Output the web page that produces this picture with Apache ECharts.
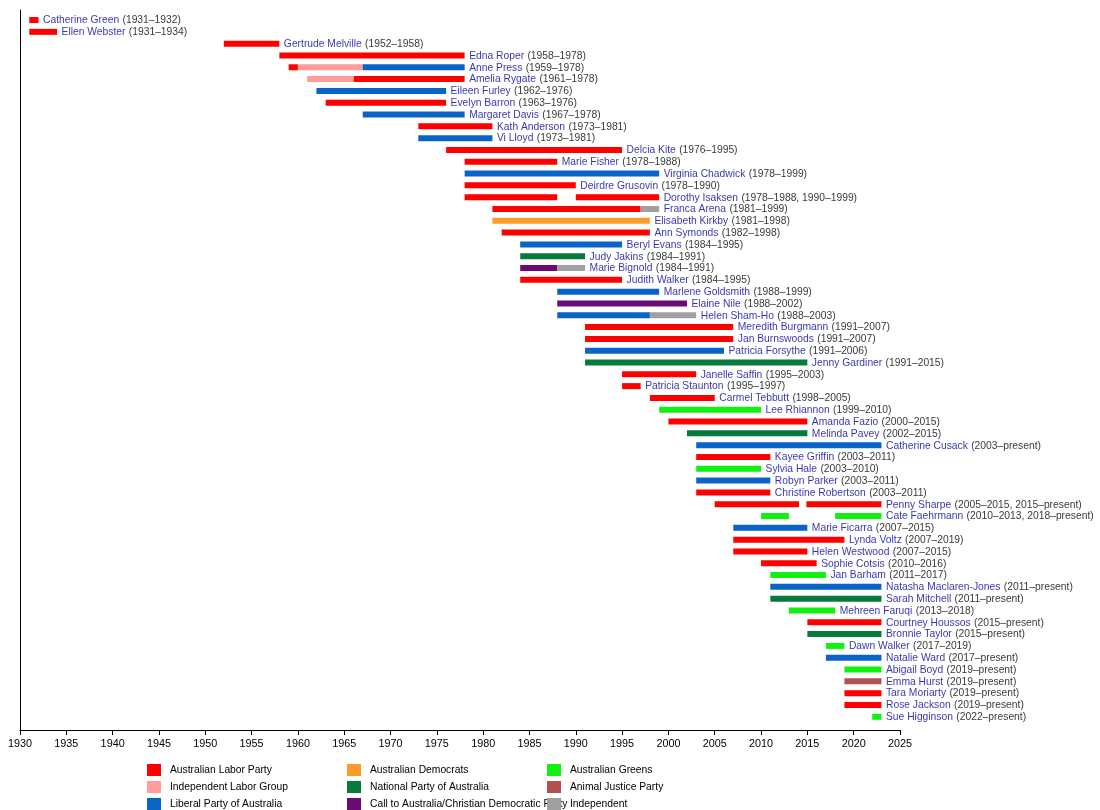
<!DOCTYPE html>
<html>
<head>
<meta charset="utf-8">
<script src="https://cdn.jsdelivr.net/npm/echarts@6/dist/echarts.min.js"></script>
<style>html,body{margin:0;padding:0;background:#fff}#c{width:1100px;height:810px}</style>
</head>
<body>
<div id="c"></div>
<script>
// ---- Data ----
const PRESENT = 2023;
const members = [
  "Catherine Green","Ellen Webster","Gertrude Melville","Edna Roper","Anne Press","Amelia Rygate",
  "Eileen Furley","Evelyn Barron","Margaret Davis","Kath Anderson","Vi Lloyd","Delcia Kite",
  "Marie Fisher","Virginia Chadwick","Deirdre Grusovin","Dorothy Isaksen","Franca Arena","Elisabeth Kirkby",
  "Ann Symonds","Beryl Evans","Judy Jakins","Marie Bignold","Judith Walker","Marlene Goldsmith",
  "Elaine Nile","Helen Sham-Ho","Meredith Burgmann","Jan Burnswoods","Patricia Forsythe","Jenny Gardiner",
  "Janelle Saffin","Patricia Staunton","Carmel Tebbutt","Lee Rhiannon","Amanda Fazio","Melinda Pavey",
  "Catherine Cusack","Kayee Griffin","Sylvia Hale","Robyn Parker","Christine Robertson","Penny Sharpe",
  "Cate Faehrmann","Marie Ficarra","Lynda Voltz","Helen Westwood","Sophie Cotsis","Jan Barham",
  "Natasha Maclaren-Jones","Sarah Mitchell","Mehreen Faruqi","Courtney Houssos","Bronnie Taylor","Dawn Walker",
  "Natalie Ward","Abigail Boyd","Emma Hurst","Tara Moriarty","Rose Jackson","Sue Higginson"
];
const termLabels = [
  "1931–1932","1931–1934","1952–1958","1958–1978","1959–1978","1961–1978",
  "1962–1976","1963–1976","1967–1978","1973–1981","1973–1981","1976–1995",
  "1978–1988","1978–1999","1978–1990","1978–1988, 1990–1999","1981–1999","1981–1998",
  "1982–1998","1984–1995","1984–1991","1984–1991","1984–1995","1988–1999",
  "1988–2002","1988–2003","1991–2007","1991–2007","1991–2006","1991–2015",
  "1995–2003","1995–1997","1998–2005","1999–2010","2000–2015","2002–2015",
  "2003–present","2003–2011","2003–2010","2003–2011","2003–2011","2005–2015, 2015–present",
  "2010–2013, 2018–present","2007–2015","2007–2019","2007–2015","2010–2016","2011–2017",
  "2011–present","2011–present","2013–2018","2015–present","2015–present","2017–2019",
  "2017–present","2019–present","2019–present","2019–present","2019–present","2022–present"
];
// party segments: [member, start, end]
const laborTerms = [
  ["Catherine Green",1931,1932],["Ellen Webster",1931,1934],["Gertrude Melville",1952,1958],
  ["Edna Roper",1958,1978],["Anne Press",1959,1960],["Amelia Rygate",1966,1978],
  ["Evelyn Barron",1963,1976],["Kath Anderson",1973,1981],["Delcia Kite",1976,1995],
  ["Marie Fisher",1978,1988],["Deirdre Grusovin",1978,1990],["Dorothy Isaksen",1978,1988],
  ["Dorothy Isaksen",1990,1999],["Franca Arena",1981,1997],["Ann Symonds",1982,1998],
  ["Judith Walker",1984,1995],["Meredith Burgmann",1991,2007],["Jan Burnswoods",1991,2007],
  ["Janelle Saffin",1995,2003],["Patricia Staunton",1995,1997],["Carmel Tebbutt",1998,2005],
  ["Amanda Fazio",2000,2015],["Kayee Griffin",2003,2011],["Christine Robertson",2003,2011],
  ["Penny Sharpe",2005,2014.1],["Penny Sharpe",2014.9,PRESENT],["Lynda Voltz",2007,2019],
  ["Helen Westwood",2007,2015],["Sophie Cotsis",2010,2016],["Courtney Houssos",2015,PRESENT],
  ["Tara Moriarty",2019,PRESENT],["Rose Jackson",2019,PRESENT]
];
const indLaborTerms = [["Anne Press",1960,1967],["Amelia Rygate",1961,1966]];
const liberalTerms = [
  ["Anne Press",1967,1978],["Eileen Furley",1962,1976],["Margaret Davis",1967,1978],
  ["Vi Lloyd",1973,1981],["Virginia Chadwick",1978,1999],["Beryl Evans",1984,1995],
  ["Marlene Goldsmith",1988,1999],["Helen Sham-Ho",1988,1998],["Patricia Forsythe",1991,2006],
  ["Catherine Cusack",2003,PRESENT],["Robyn Parker",2003,2011],["Marie Ficarra",2007,2015],
  ["Natasha Maclaren-Jones",2011,PRESENT],["Natalie Ward",2017,PRESENT]
];
const democratTerms = [["Elisabeth Kirkby",1981,1998]];
const nationalTerms = [
  ["Judy Jakins",1984,1991],["Jenny Gardiner",1991,2015],["Melinda Pavey",2002,2015],
  ["Sarah Mitchell",2011,PRESENT],["Bronnie Taylor",2015,PRESENT]
];
const ctaTerms = [["Marie Bignold",1984,1988],["Elaine Nile",1988,2002]];
const greensTerms = [
  ["Lee Rhiannon",1999,2010],["Sylvia Hale",2003,2010],["Cate Faehrmann",2010,2013],
  ["Cate Faehrmann",2018,PRESENT],["Jan Barham",2011,2017],["Mehreen Faruqi",2013,2018],
  ["Dawn Walker",2017,2019],["Abigail Boyd",2019,PRESENT],["Sue Higginson",2022,PRESENT]
];
const ajpTerms = [["Emma Hurst",2019,PRESENT]];
const independentTerms = [["Franca Arena",1997,1999],["Marie Bignold",1988,1991],["Helen Sham-Ho",1998,2003]];

const parties = [
  {name:"Australian Labor Party", color:"#ff0000", terms:laborTerms},
  {name:"Independent Labor Group", color:"#ff9c9c", terms:indLaborTerms},
  {name:"Liberal Party of Australia", color:"#0a64c8", terms:liberalTerms},
  {name:"Australian Democrats", color:"#fa9c28", terms:democratTerms},
  {name:"National Party of Australia", color:"#087a3c", terms:nationalTerms},
  {name:"Call to Australia/Christian Democratic Party", color:"#6a0a74", terms:ctaTerms},
  {name:"Australian Greens", color:"#12f012", terms:greensTerms},
  {name:"Animal Justice Party", color:"#b05252", terms:ajpTerms},
  {name:"Independent", color:"#a0a0a0", terms:independentTerms}
];
const xTicks = {min:1930, max:2025, interval:5};

// ---- Build ----
const rowOf = n => members.indexOf(n);
const lastEnd = members.map(() => 0);
parties.forEach(p => p.terms.forEach(t => { const r = rowOf(t[0]); lastEnd[r] = Math.max(lastEnd[r], t[2]); }));

const FONT = "'Liberation Sans'";
const barSeries = parties.map(p => ({
  type:'custom', name:p.name, color:p.color,
  encode:{x:[1,2], y:0},
  data:p.terms.map(t => [rowOf(t[0]), t[1], t[2]]),
  renderItem:(params, api) => {
    const r = api.value(0);
    const a = api.coord([api.value(1), r]);
    const b = api.coord([api.value(2), r]);
    return {type:'rect', shape:{x:a[0], y:a[1]-3, width:b[0]-a[0], height:6},
            style:{fill:api.visual('color')}};
  }
}));

const labelSeries = {
  type:'scatter', name:'labels', symbolSize:1, silent:true,
  itemStyle:{color:'rgba(0,0,0,0)'},
  data:members.map((m,i) => [lastEnd[i], i, m, termLabels[i]]),
  label:{show:true, position:'right', distance:4, offset:[0,0.5],
    formatter:p => '{n|' + p.data[2] + '} {y|(' + p.data[3] + ')}',
    rich:{
      n:{color:'#00009c', fontFamily:FONT, fontSize:10.3},
      y:{color:'#000', fontFamily:FONT, fontSize:10.3}
    }}
};

const legendCol = (names, left) => ({
  data:names, orient:'vertical', left:left, top:764, height:60, padding:0,
  itemWidth:14, itemHeight:12, itemGap:5,
  icon:'rect', selectedMode:false,
  textStyle:{fontFamily:FONT, fontSize:10.3, lineHeight:12, color:'#000', padding:[0,0,0,4]}
});

const chart = echarts.init(document.getElementById('c'), null, {renderer:'canvas'});
chart.setOption({
  animation:false,
  backgroundColor:'#fff',
  grid:{left:20, right:200, top:10, bottom:80},
  xAxis:{type:'value', min:xTicks.min, max:xTicks.max, interval:xTicks.interval,
    axisLine:{show:true, onZero:false, lineStyle:{color:'#000', width:1}},
    axisTick:{show:true, length:5, lineStyle:{color:'#000'}},
    splitLine:{show:false},
    axisLabel:{color:'#000', fontFamily:FONT, fontSize:10.8, margin:9, formatter:v => String(v)}},
  yAxis:{type:'value', inverse:true, min:-0.85, max:60.12,
    axisLine:{show:true, onZero:false, lineStyle:{color:'#000', width:1}},
    axisTick:{show:false}, axisLabel:{show:false}, splitLine:{show:false}},
  legend:[
    legendCol(parties.slice(0,3).map(p=>p.name), 147),
    legendCol(parties.slice(3,6).map(p=>p.name), 347),
    legendCol(parties.slice(6,9).map(p=>p.name), 547)
  ],
  series:[...barSeries, labelSeries]
});
</script>
</body>
</html>
